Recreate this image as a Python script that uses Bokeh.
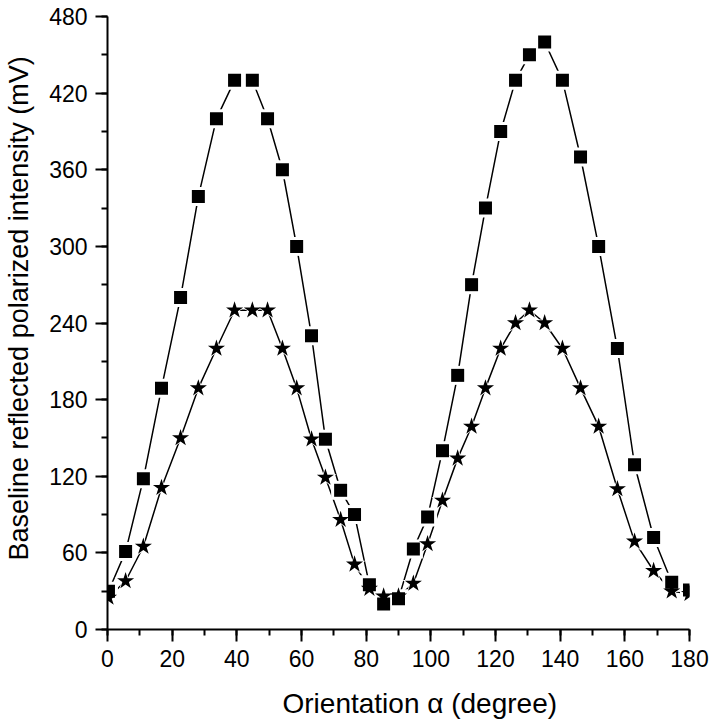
from bokeh.plotting import figure
from bokeh.models import SingleIntervalTicker, Title, Range1d, ColumnDataSource
from bokeh.embed import file_html
from bokeh.resources import INLINE

# Orientation angle (degree)
angle = [0.3, 5.6, 11.1, 16.7, 22.6, 28.1, 33.7, 39.3, 44.8, 49.5, 54.1, 58.5,
         63.1, 67.4, 72.1, 76.4, 81.0, 85.4, 90.0, 94.6, 99.0, 103.6, 108.3,
         112.6, 116.9, 121.6, 126.2, 130.5, 135.2, 140.7, 146.3, 151.9, 157.7,
         163.0, 168.9, 174.5, 180.0]
# Square series (mV)
squares = [30, 61, 118, 189, 260, 339, 400, 430, 430, 400, 360, 300, 230, 149,
           109, 90, 35, 20, 24, 63, 88, 140, 199, 270, 330, 390, 430, 450, 460,
           430, 370, 300, 220, 129, 72, 37, 31]
# Star series (mV)
stars = [25, 38, 65, 111, 150, 189, 220, 250, 250, 250, 220, 189, 149, 119, 86,
         51, 32, 26, 26, 36, 67, 101, 134, 159, 189, 220, 240, 250, 240, 220,
         189, 159, 110, 69, 46, 30, 28]

x_label = "Orientation \u03b1 (degree)"
y_label = "Baseline reflected polarized intensity (mV)"

src = ColumnDataSource(dict(x=angle, sq=squares, st=stars))

p = figure(width=711, height=719, x_range=Range1d(0, 180), y_range=Range1d(0, 480),
           output_backend="svg", toolbar_location=None,
           min_border_left=107, min_border_right=22, min_border_top=16, min_border_bottom=90)
p.outline_line_color = None
p.grid.visible = False
p.background_fill_color = "white"
p.border_fill_color = "white"

p.xaxis.ticker = SingleIntervalTicker(interval=20, num_minor_ticks=2)
p.yaxis.ticker = SingleIntervalTicker(interval=60, num_minor_ticks=2)
for ax in (p.xaxis[0], p.yaxis[0]):
    ax.axis_line_width = 2
    ax.axis_line_color = "black"
    ax.major_tick_line_width = 2
    ax.minor_tick_line_width = 2
    ax.major_tick_line_color = "black"
    ax.minor_tick_line_color = "black"
    ax.major_tick_in = 0
    ax.minor_tick_in = 0
    ax.major_tick_out = 12
    ax.minor_tick_out = 6
    ax.major_label_text_font = "Liberation Sans"
    ax.major_label_text_font_size = "23px"
    ax.major_label_text_color = "black"
    ax.major_label_standoff = 8
    # invisible spacer label so the titles sit further out
    ax.axis_label = " "
    ax.axis_label_text_font_size = "1px"
p.xaxis.axis_label_standoff = 12
p.yaxis.axis_label_standoff = 9

p.line("x", "sq", source=src, line_color="black", line_width=1.5)
p.line("x", "st", source=src, line_color="black", line_width=1.5)
p.scatter("x", "sq", source=src, marker="square", size=19, fill_color="white", line_color=None)
p.scatter("x", "st", source=src, marker="star", size=23, fill_color="white", line_color=None)
p.scatter("x", "sq", source=src, marker="square", size=13, fill_color="black", line_color=None)
p.scatter("x", "st", source=src, marker="star", size=18, fill_color="black", line_color=None)

p.add_layout(Title(text=y_label, align="left", offset=69, text_font_size="27px",
                   text_font="Liberation Sans", text_font_style="normal",
                   text_color="black", standoff=0), "left")
p.add_layout(Title(text=x_label, align="left", offset=175, text_font_size="28px",
                   text_font="Liberation Sans", text_font_style="normal",
                   text_color="black", standoff=0), "below")

open("out.html", "w").write(file_html(p, INLINE))
